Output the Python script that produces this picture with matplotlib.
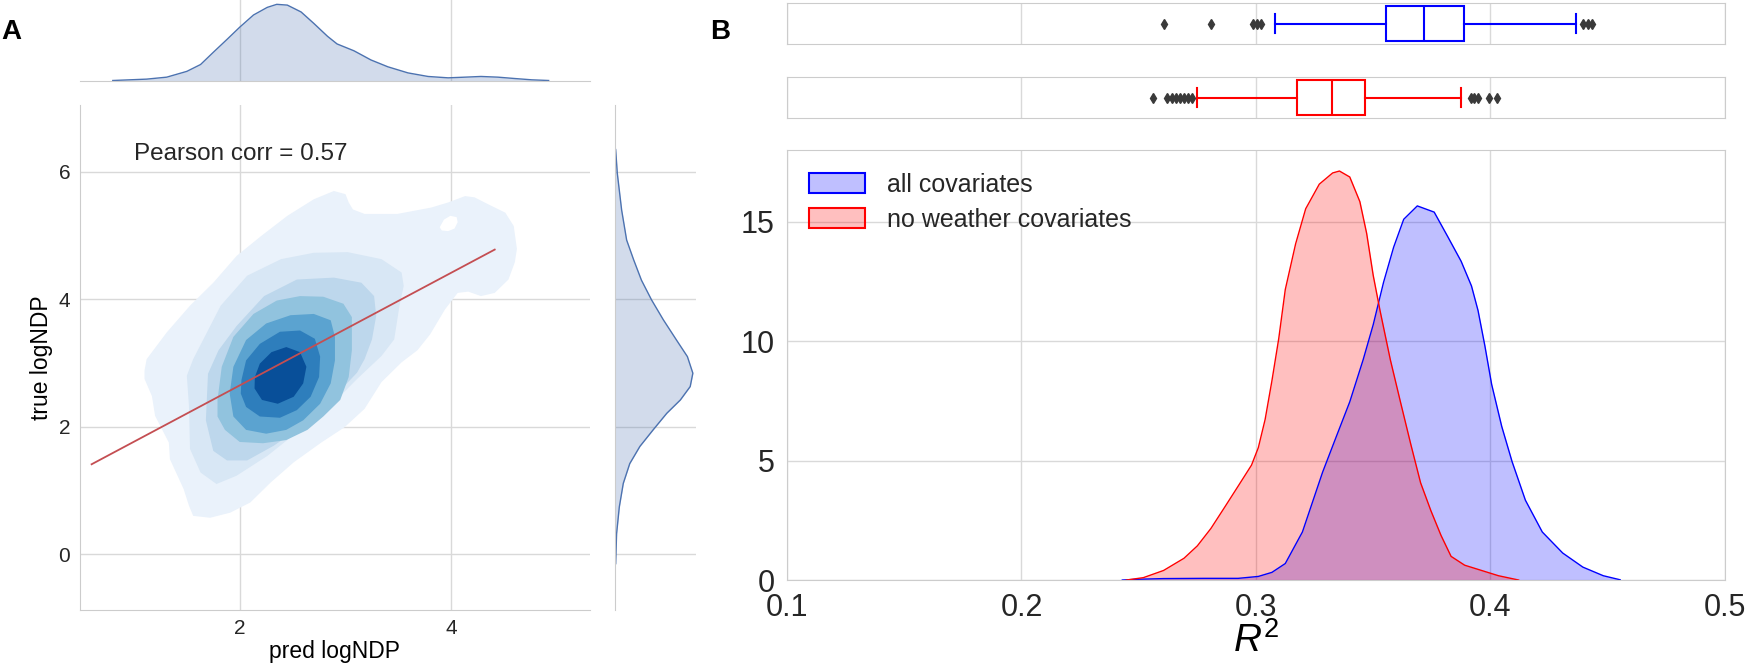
import numpy as np
import matplotlib
matplotlib.use('Agg')
import matplotlib.pyplot as plt
from matplotlib.patches import Patch

plt.rcParams['font.family'] = ['Liberation Sans', 'DejaVu Sans']
plt.rcParams['mathtext.fontset'] = 'custom'
plt.rcParams['mathtext.rm'] = 'Liberation Sans'
plt.rcParams['mathtext.it'] = 'Liberation Sans:italic'
plt.rcParams['text.color'] = '#262626'
plt.rcParams['xtick.color'] = '#262626'
plt.rcParams['ytick.color'] = '#262626'

# ---- panel A data ----
# top marginal density of pred logNDP (relative height)
top_x = [0.80, 1.12, 1.31, 1.50, 1.63, 1.75, 1.88, 2.0, 2.13, 2.26, 2.35, 2.45, 2.58,
         2.70, 2.83, 2.92, 3.08, 3.24, 3.40, 3.59, 3.78, 3.97, 4.13, 4.28, 4.44, 4.60,
         4.76, 4.92]
top_d = [0.0, 0.018, 0.044, 0.12, 0.21, 0.37, 0.54, 0.70, 0.86, 0.96, 1.0, 0.99, 0.90,
         0.75, 0.58, 0.48, 0.39, 0.27, 0.18, 0.10, 0.053, 0.035, 0.044, 0.053, 0.044, 0.026,
         0.009, 0.0]
# right marginal density of true logNDP
right_y = [6.35, 5.98, 5.40, 4.93, 4.62, 4.30, 3.99, 3.68, 3.36, 3.10, 2.84, 2.63, 2.42,
           2.21, 1.95, 1.69, 1.42, 1.11, 0.74, 0.32, -0.15]
right_d = [0.009, 0.03, 0.086, 0.15, 0.24, 0.34, 0.47, 0.62, 0.79, 0.93, 1.0, 0.966, 0.84,
           0.665, 0.49, 0.32, 0.19, 0.107, 0.056, 0.021, 0.009]

# outlines of the filled kde bands (pred, true), outermost first
band1_x = [1.10, 1.12, 1.31, 1.53, 1.75, 1.97, 2.20, 2.45, 2.70, 2.89, 3.00, 3.03, 3.07,
           3.18, 3.49, 3.81, 3.97, 4.13, 4.22, 4.35, 4.51, 4.59, 4.62, 4.60, 4.54, 4.41,
           4.28, 4.16, 4.06, 3.94, 3.80, 3.68, 3.53, 3.34, 3.18, 2.99, 2.77, 2.51, 2.29,
           2.10, 1.91, 1.72, 1.56, 1.52, 1.47, 1.34, 1.33, 1.20, 1.17, 1.10]
band1_y = [2.88, 3.06, 3.48, 3.90, 4.26, 4.68, 4.99, 5.31, 5.57, 5.70, 5.65, 5.52, 5.41,
           5.34, 5.34, 5.44, 5.52, 5.62, 5.60, 5.49, 5.36, 5.15, 4.79, 4.58, 4.31, 4.10,
           4.05, 4.12, 4.10, 3.84, 3.45, 3.20, 3.01, 2.70, 2.28, 1.99, 1.75, 1.44, 1.12,
           0.81, 0.65, 0.57, 0.60, 0.76, 1.02, 1.49, 1.75, 2.17, 2.48, 2.75]
hole_x = [3.89, 3.93, 3.99, 4.05, 4.06, 4.03, 3.97, 3.91]
hole_y = [5.13, 5.25, 5.31, 5.29, 5.21, 5.11, 5.07, 5.08]
band2_x = [1.50, 1.56, 1.69, 1.82, 2.07, 2.39, 2.70, 3.02, 3.34, 3.53, 3.55, 3.51, 3.48,
           3.46, 3.34, 3.11, 2.86, 2.54, 2.26, 1.97, 1.78, 1.63, 1.53, 1.52]
band2_y = [2.80, 3.06, 3.48, 3.90, 4.37, 4.63, 4.73, 4.74, 4.63, 4.42, 4.21, 3.90, 3.58,
           3.37, 3.11, 2.75, 2.33, 1.91, 1.54, 1.23, 1.10, 1.28, 1.65, 2.33]
band3_x = [1.68, 1.70, 1.80, 1.97, 2.23, 2.54, 2.89, 3.15, 3.27, 3.29, 3.25, 3.18, 3.11,
           2.86, 2.58, 2.32, 2.07, 1.88, 1.75]
band3_y = [2.10, 2.83, 3.20, 3.58, 4.05, 4.31, 4.34, 4.26, 4.05, 3.74, 3.37, 3.06, 2.85,
           2.41, 1.99, 1.70, 1.47, 1.47, 1.62]
band4_x = [1.79, 1.83, 1.94, 2.13, 2.35, 2.57, 2.79, 2.98, 3.06, 3.06, 3.03, 2.95, 2.79,
           2.64, 2.44, 2.22, 2.0, 1.86, 1.79]
band4_y = [2.42, 2.94, 3.41, 3.77, 3.98, 4.05, 4.04, 3.93, 3.72, 3.20, 2.78, 2.42, 2.16,
           1.95, 1.79, 1.74, 1.76, 1.95, 2.16]
band5_x = [1.905, 1.94, 2.06, 2.25, 2.48, 2.70, 2.86, 2.90, 2.90, 2.86, 2.76, 2.60, 2.44,
           2.25, 2.06, 1.94]
band5_y = [2.52, 2.94, 3.36, 3.62, 3.75, 3.77, 3.67, 3.41, 3.04, 2.68, 2.36, 2.10, 1.95,
           1.89, 1.95, 2.16]
band6_x = [2.016, 2.06, 2.19, 2.38, 2.57, 2.71, 2.76, 2.75, 2.67, 2.54, 2.38, 2.19, 2.06, 2.01]
band6_y = [2.73, 3.04, 3.30, 3.49, 3.51, 3.38, 3.10, 2.78, 2.47, 2.26, 2.14, 2.16, 2.31, 2.52]
band7_x = [2.143, 2.19, 2.30, 2.44, 2.57, 2.63, 2.60, 2.51, 2.36, 2.21, 2.14]
band7_y = [2.78, 2.99, 3.17, 3.25, 3.17, 2.94, 2.68, 2.47, 2.36, 2.42, 2.60]

# regression line ends
reg_x = [0.60, 4.41]
reg_y = [1.41, 4.78]
pearson_r = 0.57

# ---- panel B data ----
r2_ticks = [0.1, 0.2, 0.3, 0.4, 0.5]
all_x = [0.243, 0.249, 0.2606, 0.278, 0.2924, 0.301, 0.3068, 0.3125, 0.3198, 0.3284,
         0.3342, 0.340, 0.3457, 0.350, 0.3544, 0.3587, 0.3630, 0.3688, 0.376, 0.3818,
         0.3875, 0.3919, 0.3947, 0.3976, 0.4005, 0.4048, 0.4092, 0.4149, 0.4221, 0.4308,
         0.4394, 0.4481, 0.4553]
all_y = [0.0, 0.03, 0.06, 0.07, 0.07, 0.15, 0.32, 0.69, 2.01, 4.51,
         5.99, 7.46, 9.22, 10.69, 12.46, 13.93, 15.1, 15.66, 15.4, 14.37,
         13.34, 12.31, 11.28, 9.81, 8.19, 6.43, 4.96, 3.34, 2.01, 1.13,
         0.54, 0.18, 0.01]
now_x = [0.2448, 0.252, 0.2606, 0.2693, 0.275, 0.2808, 0.2866, 0.2924, 0.2981, 0.301,
         0.3039, 0.3068, 0.3097, 0.3125, 0.3169, 0.3212, 0.327, 0.3327, 0.3356, 0.340,
         0.3443, 0.3472, 0.350, 0.3529, 0.3573, 0.3616, 0.366, 0.3702, 0.3746, 0.3789,
         0.3832, 0.389, 0.3962, 0.4034, 0.412]
now_y = [0.0, 0.1, 0.4, 0.91, 1.43, 2.16, 3.04, 3.93, 4.81, 5.54,
         6.72, 8.34, 10.1, 12.16, 14.07, 15.54, 16.57, 17.04, 17.12, 16.87,
         15.84, 14.51, 12.75, 11.28, 9.22, 7.46, 5.69, 4.07, 2.9, 1.87,
         0.99, 0.62, 0.4, 0.18, 0.0]

all_box = dict(q1=0.3556, med=0.3715, q3=0.3885, whislo=0.3081, whishi=0.4366,
               fliers=[0.2608, 0.2807, 0.2986, 0.3003, 0.3023, 0.4395, 0.4415, 0.4435])
now_box = dict(q1=0.3173, med=0.3326, q3=0.3467, whislo=0.2749, whishi=0.3876,
               fliers=[0.2559, 0.2622, 0.2640, 0.2657, 0.2674, 0.2692, 0.2709, 0.2726,
                       0.3916, 0.3930, 0.3945, 0.3994, 0.4029])

grid_c = '#d9d9d9'
spine_c = '#cccccc'
marg_c = '#4c72b0'

fig = plt.figure(figsize=(17.5, 6.67), dpi=100)

# ---------------- panel A ----------------
axA = fig.add_axes([0.0457, 0.0862, 0.2914, 0.7564])
axT = fig.add_axes([0.0457, 0.8793, 0.2914, 0.1207])
axR = fig.add_axes([0.3514, 0.0862, 0.0463, 0.7564])

for ax in (axA, axT, axR):
    ax.set_axisbelow(True)
    for s in ax.spines.values():
        s.set_color(spine_c)
    ax.tick_params(length=0)

axA.set_xlim(0.49, 5.31)
axA.set_ylim(-0.87, 7.05)
axA.set_xticks([2, 4])
axA.set_yticks([0, 2, 4, 6])
axA.grid(True, color=grid_c, lw=1)
axA.spines['top'].set_visible(False)
axA.spines['right'].set_visible(False)
axA.tick_params(labelsize=15, pad=7)

bands = [(band1_x, band1_y), (band2_x, band2_y), (band3_x, band3_y), (band4_x, band4_y),
         (band5_x, band5_y), (band6_x, band6_y), (band7_x, band7_y)]
shades = plt.cm.Blues([0.07, 0.16, 0.28, 0.41, 0.55, 0.70, 0.88])
for i, ((bx, by), c) in enumerate(zip(bands, shades)):
    axA.fill(bx, by, color=c, lw=0, zorder=2)
    if i == 0:
        axA.fill(hole_x, hole_y, color='white', lw=0, zorder=2)

axA.plot(reg_x, reg_y, color='#c44e52', lw=1.3, zorder=3)
axA.text(1.0, 6.19, 'Pearson corr = %.2f' % pearson_r, fontsize=17.5, va='baseline')
axA.set_xlabel('pred logNDP', fontsize=16.5, labelpad=1)
axA.set_ylabel('true logNDP', fontsize=16.5, labelpad=4)

axT.set_xlim(axA.get_xlim())
axT.set_ylim(0, 1.057)
axT.fill_between(top_x, top_d, color=marg_c, alpha=0.25, lw=0)
axT.plot(top_x, top_d, color=marg_c, lw=1)
axT.set_xticks([2, 4])
axT.set_yticks([])
axT.grid(True, axis='x', color=grid_c, lw=1)
axT.tick_params(labelbottom=False, labelleft=False)
for s in ('top', 'left', 'right'):
    axT.spines[s].set_visible(False)

axR.set_ylim(axA.get_ylim())
axR.set_xlim(0, 1.04)
axR.fill_betweenx(right_y, right_d, color=marg_c, alpha=0.25, lw=0)
axR.plot(right_d, right_y, color=marg_c, lw=1)
axR.set_yticks([0, 2, 4, 6])
axR.set_xticks([])
axR.grid(True, axis='y', color=grid_c, lw=1)
axR.tick_params(labelbottom=False, labelleft=False)
for s in ('top', 'bottom', 'right'):
    axR.spines[s].set_visible(False)

# ---------------- panel B ----------------
axB1 = fig.add_axes([0.4497, 0.934, 0.536, 0.0615])
axB2 = fig.add_axes([0.4497, 0.823, 0.536, 0.0615])
axK = fig.add_axes([0.4497, 0.1304, 0.536, 0.6447])

for ax, st, col in ((axB1, all_box, '#0000ff'), (axB2, now_box, '#ff0000')):
    ax.set_axisbelow(True)
    ax.bxp([st], positions=[0], widths=0.84, vert=False, capwidths=[0.46],
           patch_artist=True,
           boxprops=dict(facecolor='white', edgecolor=col, lw=1.5),
           medianprops=dict(color=col, lw=1.5),
           whiskerprops=dict(color=col, lw=1.5),
           capprops=dict(color=col, lw=1.5),
           flierprops=dict(marker='d', markerfacecolor='#3a3a3a',
                           markeredgecolor='#3a3a3a', markersize=5))
    ax.set_xlim(0.1, 0.5)
    ax.set_ylim(-0.5, 0.5)
    ax.set_xticks(r2_ticks)
    ax.set_yticks([])
    ax.grid(True, axis='x', color=grid_c, lw=1)
    ax.tick_params(length=0, labelbottom=False, labelleft=False)
    for s in ax.spines.values():
        s.set_color(spine_c)

axK.set_axisbelow(True)
axK.fill_between(all_x, all_y, color=(0, 0, 1, 0.25), lw=0)
axK.plot(all_x, all_y, color='#0000ff', lw=1)
axK.fill_between(now_x, now_y, color=(1, 0, 0, 0.25), lw=0)
axK.plot(now_x, now_y, color='#ff0000', lw=1)
axK.set_xlim(0.1, 0.5)
axK.set_ylim(0, 18)
axK.set_xticks(r2_ticks)
axK.set_xticklabels(['0.1', '0.2', '0.3', '0.4', '0.5'])
axK.set_yticks([0, 5, 10, 15])
axK.grid(True, color=grid_c, lw=1)
for s in axK.spines.values():
    s.set_color(spine_c)
axK.tick_params(length=0, labelsize=22, pad=9)
axK.set_xlabel('$R^2$', fontsize=28, labelpad=0)

handles = [Patch(facecolor=(0, 0, 1, 0.25), edgecolor='#0000ff', lw=1.5),
           Patch(facecolor=(1, 0, 0, 0.25), edgecolor='#ff0000', lw=1.5)]
axK.legend(handles, ['all covariates', 'no weather covariates'], loc='upper left',
           frameon=False, fontsize=18, handlelength=2.24, handleheight=0.84,
           handletextpad=0.88, labelspacing=0.45)

fig.text(0.001, 0.942, 'A', fontsize=20, fontweight='bold', color='black')
fig.text(0.4057, 0.9415, 'B', fontsize=20, fontweight='bold', color='black')

fig.savefig('out.png', dpi=100)
